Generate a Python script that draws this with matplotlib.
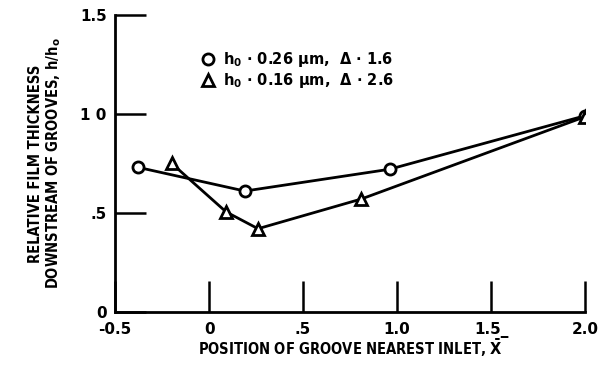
import matplotlib
matplotlib.use("Agg")
import matplotlib.pyplot as plt

# groove position vs relative film thickness, two film cases
x_circ = [-0.38, 0.19, 0.96, 2.0]
h_circ = [0.73, 0.61, 0.72, 0.99]
x_tri = [-0.2, 0.09, 0.26, 0.81, 2.0]
h_tri = [0.75, 0.505, 0.42, 0.57, 0.985]

labels = [r"h$_0$ $\bullet$ 0.26 $\mu$m,  $\Delta$ $\bullet$ 1.6",
          r"h$_0$ $\bullet$ 0.16 $\mu$m,  $\Delta$ $\bullet$ 2.6"]
xticks = [-0.5, 0, 0.5, 1.0, 1.5, 2.0]
xticklabels = ["-0.5", "0", ".5", "1.0", "1.5_", "2.0"]
yticks = [0, 0.5, 1.0, 1.5]
yticklabels = ["0", ".5", "1 0", "1.5"]

plt.rcParams["font.family"] = ["DejaVu Sans"]
plt.rcParams["font.weight"] = "bold"
plt.rcParams["axes.labelweight"] = "bold"
plt.rcParams["mathtext.default"] = "bf"

fig = plt.figure(figsize=(6, 3.67), dpi=100)
ax = fig.add_axes([0.192, 0.15, 0.783, 0.81])

ax.plot(x_circ, h_circ, "-o", color="black", lw=2, ms=8, mfc="white",
        mec="black", mew=2, label=labels[0])
ax.plot(x_tri, h_tri, "-^", color="black", lw=2, ms=9, mfc="white",
        mec="black", mew=2, label=labels[1])

ax.set_xlim(-0.5, 2.0)
ax.set_ylim(0, 1.5)
ax.set_xticks(xticks)
ax.set_xticklabels(xticklabels, fontsize=11)
ax.set_yticks(yticks)
ax.set_yticklabels(yticklabels, fontsize=11)
ax.tick_params(direction="in", length=22, width=1.8)
ax.tick_params(axis="x", pad=7)
ax.tick_params(axis="y", pad=6)
for s in ["top", "right"]:
    ax.spines[s].set_visible(False)
for s in ["left", "bottom"]:
    ax.spines[s].set_linewidth(2)

ax.set_xlabel(r"POSITION OF GROOVE NEAREST INLET, $\bar{X}$",
              fontsize=10.5, labelpad=0, fontstretch="condensed")
ax.set_ylabel("RELATIVE FILM THICKNESS\nDOWNSTREAM OF GROOVES, h/h$_o$",
              fontsize=10.5, labelpad=12, linespacing=1.15,
              fontstretch="condensed")

ax.legend(loc="upper left", bbox_to_anchor=(0.17, 0.9), frameon=False,
          fontsize=10.5, handlelength=1.0, handletextpad=0.5,
          labelspacing=0.1, borderaxespad=0)
for line in ax.get_legend().get_lines():
    line.set_linestyle("none")

fig.savefig("out.png", dpi=100)
